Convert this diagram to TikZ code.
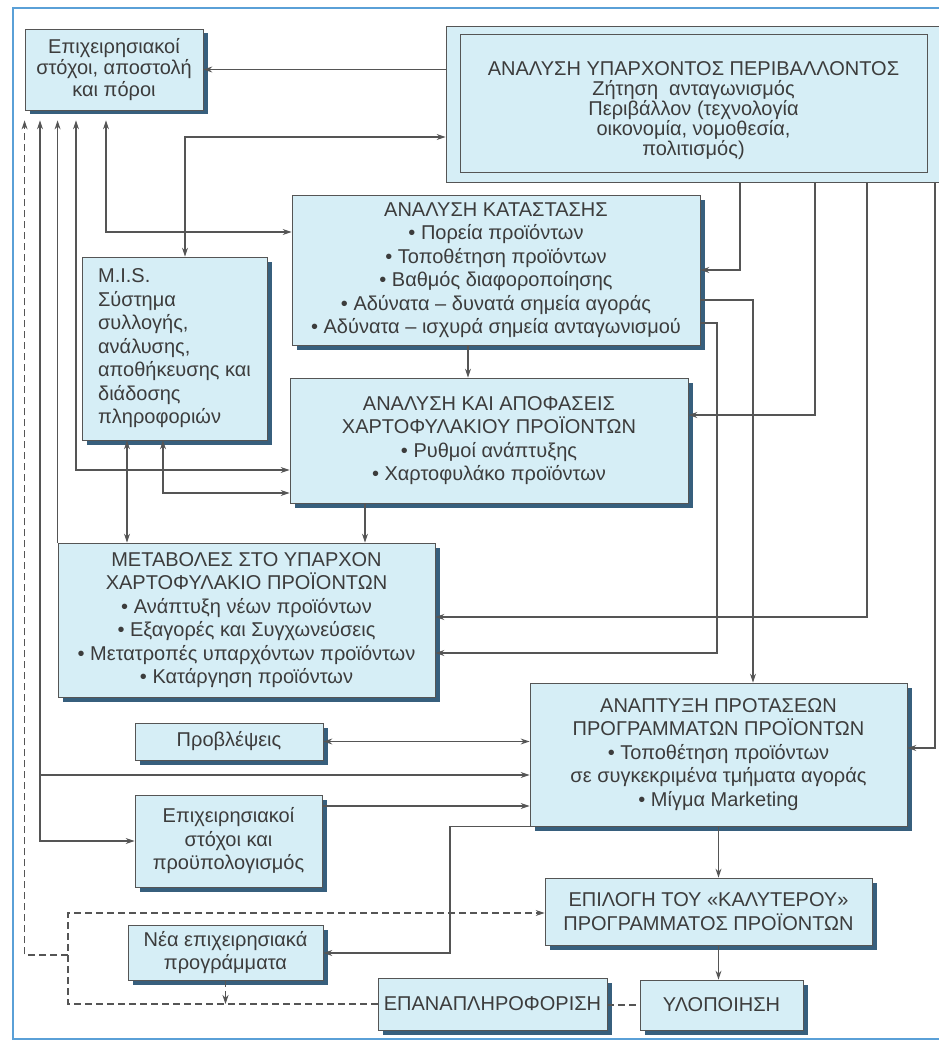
\documentclass[tikz,border=0pt]{standalone}
\usepackage{fontspec}
\setmainfont{Liberation Sans}
\usetikzlibrary{arrows.meta}
\usetikzlibrary{shadows}

\definecolor{boxfill}{RGB}{214,238,246}
\definecolor{shadowc}{RGB}{55,95,125}
\definecolor{linec}{RGB}{85,85,85}
\definecolor{textc}{RGB}{60,60,60}
\definecolor{framec}{RGB}{90,160,215}

\begin{document}
\begin{tikzpicture}[
        x=1pt, y=-1pt,
        every node/.style={font=\fontsize{20}{23.5}\selectfont, text=textc},
        box/.style={rectangle, draw=linec, fill=boxfill, line width=0.8pt, inner sep=0pt, align=center,
                    drop shadow={shadow xshift=4.5pt, shadow yshift=-4.5pt, fill=shadowc, opacity=1}},
        outerbox/.style={rectangle, draw=linec, fill=boxfill, line width=0.8pt, inner sep=0pt},
        innerbox/.style={rectangle, draw=linec, line width=0.8pt, inner sep=0pt, align=center},
        arrow/.style={-{Stealth[length=9pt,width=6pt]}, draw=linec, line width=1.1pt},
        dbl/.style={{Stealth[length=9pt,width=6pt]}-{Stealth[length=9pt,width=6pt]}, draw=linec, line width=1.1pt},
        fb/.style={draw=linec, line width=1.1pt, dash pattern=on 7pt off 4pt},
        fbarrow/.style={fb, -{Stealth[length=9pt,width=6pt]}}
        ]

        \useasboundingbox (0,0) rectangle (938,1046);
        \draw[framec, line width=2.5pt] (13,8) rectangle (960,1039);

        % Nodes
        \node (goals)  [box, minimum width=178pt, minimum height=81pt,
                        font=\fontsize{20}{21.5}\selectfont] at (114,69.5)
              {Επιχειρησιακοί\\στόχοι, αποστολή\\και πόροι};
        \node (envbg)  [outerbox, minimum width=500pt, minimum height=156pt] at (696,104) {};
        \node (env)    [innerbox, minimum width=467pt, minimum height=138pt,
                        font=\fontsize{20}{20}\selectfont] at (693.5,103)
              {\rule{0pt}{30pt}ΑΝΑΛΥΣΗ ΥΠΑΡΧΟΝΤΟΣ ΠΕΡΙΒΑΛΛΟΝΤΟΣ\\Ζήτηση\ \ ανταγωνισμός\\Περιβάλλον (τεχνολογία\\οικονομία, νομοθεσία,\\πολιτισμός)};
        \node (sit)    [box, minimum width=408pt, minimum height=150pt] at (496,270)
              {ΑΝΑΛΥΣΗ ΚΑΤΑΣΤΑΣΗΣ\\• Πορεία προϊόντων\\• Τοποθέτηση προϊόντων\\• Βαθμός διαφοροποίησης\\• Αδύνατα – δυνατά σημεία αγοράς\\• Αδύνατα – ισχυρά σημεία ανταγωνισμού};
        \node (MIS)    [box, align=left, minimum width=185pt, minimum height=183pt] at (174.5,348.5)
              {M.I.S.\\Σύστημα\\συλλογής,\\ανάλυσης,\\αποθήκευσης και\\διάδοσης\\πληροφοριών};
        \node (port)   [box, minimum width=398pt, minimum height=125pt] at (489,440.5)
              {ΑΝΑΛΥΣΗ ΚΑΙ ΑΠΟΦΑΣΕΙΣ\\ΧΑΡΤΟΦΥΛΑΚΙΟΥ ΠΡΟΪΟΝΤΩΝ\\• Ρυθμοί ανάπτυξης\\• Χαρτοφυλάκο προϊόντων};
        \node (metab)  [box, minimum width=377pt, minimum height=154pt] at (246.5,620)
              {ΜΕΤΑΒΟΛΕΣ ΣΤΟ ΥΠΑΡΧΟΝ\\ΧΑΡΤΟΦΥΛΑΚΙΟ ΠΡΟΪΟΝΤΩΝ\\• Ανάπτυξη νέων προϊόντων\\• Εξαγορές και Συγχωνεύσεις\\• Μετατροπές υπαρχόντων προϊόντων\\• Κατάργηση προϊόντων};
        \node (prov)   [box, minimum width=188pt, minimum height=37pt] at (229,741.5) {Προβλέψεις};
        \node (budget) [box, minimum width=187pt, minimum height=92pt] at (228.5,841)
              {Επιχειρησιακοί\\στόχοι και\\προϋπολογισμός};
        \node (anapt)  [box, minimum width=377pt, minimum height=143pt] at (718.5,754.5)
              {ΑΝΑΠΤΥΞΗ ΠΡΟΤΑΣΕΩΝ\\ΠΡΟΓΡΑΜΜΑΤΩΝ ΠΡΟΪΟΝΤΩΝ\\• Τοποθέτηση προϊόντων\\σε συγκεκριμένα τμήματα αγοράς\\• Μίγμα Marketing};
        \node (nea)    [box, minimum width=195pt, minimum height=55pt] at (225.5,952.5)
              {Νέα επιχειρησιακά\\προγράμματα};
        \node (epil)   [box, minimum width=327pt, minimum height=67pt] at (708.5,911.5)
              {ΕΠΙΛΟΓΗ ΤΟΥ «ΚΑΛΥΤΕΡΟΥ»\\ΠΡΟΓΡΑΜΜΑΤΟΣ ΠΡΟΪΟΝΤΩΝ};
        \node (epana)  [box, minimum width=229pt, minimum height=52pt] at (492.5,1004) {ΕΠΑΝΑΠΛΗΡΟΦΟΡΙΣΗ};
        \node (ylop)   [box, minimum width=163pt, minimum height=50pt] at (721.5,1005) {ΥΛΟΠΟΙΗΣΗ};

        % Bend points of the connectors
        \coordinate (k1)  at (185,137);
        \coordinate (k2)  at (106,232);
        \coordinate (k3)  at (76,470);
        \coordinate (k4)  at (163,493);
        \coordinate (k5)  at (40,775);
        \coordinate (k6)  at (740,270);
        \coordinate (k7)  at (815,415);
        \coordinate (k8)  at (867,617);
        \coordinate (k9)  at (935,748);
        \coordinate (k10) at (753,300);
        \coordinate (k11) at (717,323);
        \coordinate (k11b) at (717,653);
        \coordinate (k12) at (450,953);
        \coordinate (k13) at (468,360);
        \coordinate (k14) at (365,520);
        \coordinate (k15) at (127,490);
        \coordinate (k16) at (330,806);
        \coordinate (fbl) at (68,1004);
        \coordinate (fbm) at (68,955);
        \coordinate (fbt) at (68,913);

        % Arrows to the goals box
        \draw[arrow] (envbg.west |- goals.east) -- (goals.east);
        \draw[dbl, shorten <=10pt] (goals.south -| k2) |- (sit.west |- k2);
        \draw[dbl, shorten <=10pt] (goals.south -| k3) |- (port.west |- k3);
        \draw[arrow, shorten >=10pt] (metab.north west) -- (goals.south -| metab.north west);
        \draw[dbl, shorten <=10pt] (goals.south -| k5) |- (budget.west);
        \draw[arrow] (k5) -- (anapt.west |- k5);
        \draw[fbarrow, shorten >=10pt] (fbm) -| (goals.south west);

        % MIS
        \draw[dbl] (MIS.north -| k1) |- (envbg.west |- k1);
        \draw[dbl] (MIS.south -| k15) -- (metab.north -| k15);
        \draw[dbl] (MIS.south -| k4) |- (port.west |- k4);

        % Environment
        \draw[arrow] (envbg.south -| k6) |- (sit.east |- k6);
        \draw[arrow] (envbg.south -| k7) |- (port.east |- k7);
        \draw[arrow] (envbg.south -| k8) |- (metab.east |- k8);
        \draw[arrow] (envbg.south -| k9) |- (anapt.east |- k9);

        % Analysis chain
        \draw[arrow] (sit.south -| k13) -- (port.north -| k13);
        \draw[arrow] (port.south -| k14) -- (metab.north -| k14);
        \draw[arrow] (sit.east |- k10) -| (anapt.north -| k10);
        \draw[arrow] (sit.east |- k11) -| (k11b) -- (metab.east |- k11b);

        % Programmes
        \draw[dbl] (prov.east) -- (anapt.west |- prov.east);
        \draw[arrow] (budget.east |- k16) -- (anapt.west |- k16);
        \draw[arrow] (anapt.south west) -| (k12) -- (nea.east |- k12);
        \draw[arrow] (anapt.south) -- (anapt.south |- epil.north);
        \draw[arrow] (epil.south -| anapt.south) -- (ylop.north -| anapt.south);

        % Feedback (dashed)
        \draw[fb] (epana.east |- ylop.west) -- (ylop.west);
        \draw[fbarrow] (nea.south) -- (nea.south |- fbl);
        \draw[fbarrow] (epana.west) -| (fbt) -- (epil.west |- fbt);

    \end{tikzpicture}
\end{document}
